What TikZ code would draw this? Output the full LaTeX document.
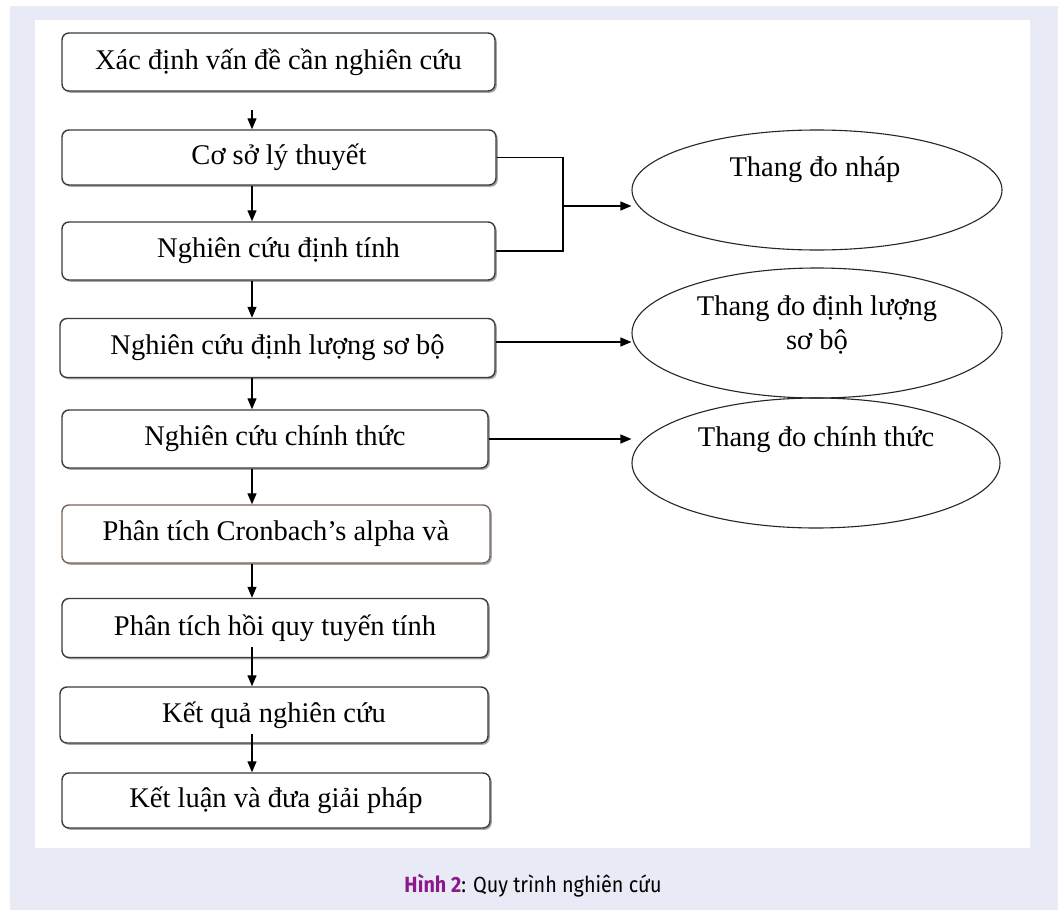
\documentclass[tikz,border=0pt]{standalone}
\usepackage{fontspec}
\setmainfont{Liberation Serif}
\newfontfamily\capfont[FakeStretch=0.9]{Fira Sans}
\usetikzlibrary{arrows.meta,shadows,calc,shapes.geometric}
\definecolor{lav}{RGB}{232,235,246}
\definecolor{capurple}{RGB}{140,24,140}
\definecolor{bord}{RGB}{60,60,60}
\tikzset{
  stepbox/.style={draw=bord, line width=1.4pt, fill=white, rounded corners=7pt,
    inner sep=0pt, font=\fontsize{28.5}{32}\selectfont,
    drop shadow={shadow xshift=1.8pt, shadow yshift=-1.8pt, fill=black!35, opacity=1}},
  ell/.style={draw=black!85, line width=1.1pt, ellipse, inner sep=0pt},
  ltext/.style={font=\fontsize{28.5}{34}\selectfont, align=center, inner sep=0pt},
  arr/.style={-{Triangle[length=11pt,width=9pt]}, line width=1.2pt, black},
  conn/.style={line width=1.2pt, black}
}
\begin{document}
\begin{tikzpicture}[x=1pt,y=-1pt]
\useasboundingbox (0,0) rectangle (1058,910);
\fill[white] (0,0) rectangle (1058,910);
\fill[lav] (10,6) rectangle (1058,910);
\fill[white] (35,20) rectangle (1030,848);

% boxes
\node[stepbox, minimum width=433pt, minimum height=58pt] (b1) at (278.5,62) {Xác định vấn đề cần nghiên cứu};
\node[stepbox, minimum width=434pt, minimum height=55pt] (b2) at (279,157.5) {Cơ sở lý thuyết};
\node[stepbox, minimum width=433pt, minimum height=58pt] (b3) at (278.5,251) {Nghiên cứu định tính};
\node[stepbox, minimum width=435pt, minimum height=59pt] (b4) at (277.5,348) {Nghiên cứu định lượng sơ bộ};
\node[stepbox, minimum width=426pt, minimum height=58pt] (b5) at (275,439) {Nghiên cứu chính thức};
\node[stepbox, draw={rgb,255:red,120;green,100;blue,90}, minimum width=428pt, minimum height=58pt] (b6) at (276,534) {\raisebox{3pt}{Phân tích Cronbach’s alpha và}};
\node[stepbox, minimum width=426pt, minimum height=59pt] (b7) at (275,628) {Phân tích hồi quy tuyến tính};
\node[stepbox, minimum width=428pt, minimum height=56pt] (b8) at (274,715) {Kết quả nghiên cứu};
\node[stepbox, minimum width=428pt, minimum height=55pt] (b9) at (276,800.5) {Kết luận và đưa giải pháp};

% ellipses
\node[ell, minimum width=370pt, minimum height=120pt] (e1) at (817,190) {};
\node[ltext] (t1) at (815,170) {Thang đo nháp};
\node[ell, minimum width=370pt, minimum height=130pt] (e2) at (817,333) {};
\node[ltext] (t2) at (817,325) {Thang đo định lượng\\sơ bộ};
\node[ell, minimum width=368pt, minimum height=130pt] (e3) at (816,463) {};
\node[ltext] (t3) at (816,440) {Thang đo chính thức};

% vertical arrows
\coordinate (ax) at (252,0);
\draw[arr, shorten <=18pt] (b1.south -| ax) -- (b2.north -| ax);
\draw[arr] (b2.south -| ax) -- (b3.north -| ax);
\draw[arr] (b3.south -| ax) -- (b4.north -| ax);
\draw[arr] (b4.south -| ax) -- (b5.north -| ax);
\draw[arr] (b5.south -| ax) -- (b6.north -| ax);
\draw[arr] (b6.south -| ax) -- (b7.north -| ax);
\draw[arr, shorten <=-11pt] (b7.south -| ax) -- (b8.north -| ax);
\draw[arr, shorten <=-10pt] (b8.south -| ax) -- (b9.north -| ax);

% side connectors
\coordinate (j) at (563,206);
\draw[conn] (b2.east) -| (j);
\draw[conn] (b3.east) -| (j);
\draw[arr] (j) -- (j -| e1.west);
\coordinate (p4) at ($(b4.east)+(0,-6)$);
\draw[arr] (p4) -- (p4 -| e2.west);
\draw[arr] (b5.east) -- (b5.east -| e3.west);

% caption
\node[font=\capfont\fontsize{22}{26}\selectfont] (cap) at (533,886) {\textcolor{capurple}{\bfseries Hình 2}: Quy trình nghiên cứu};
\end{tikzpicture}
\end{document}
